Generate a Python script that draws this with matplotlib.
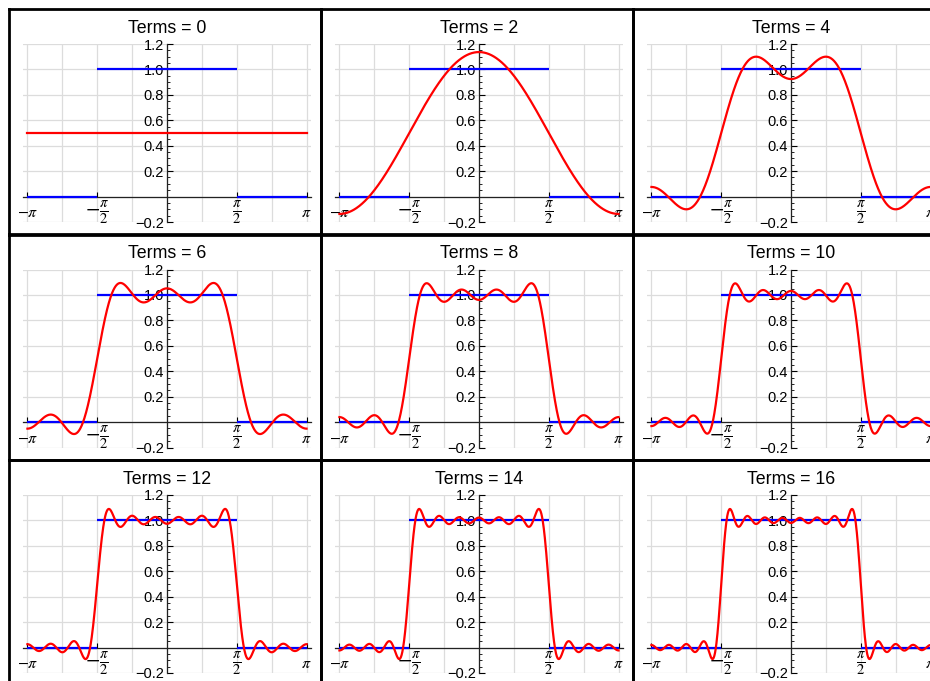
import numpy as np
import matplotlib
matplotlib.use("Agg")
import matplotlib.pyplot as plt
from matplotlib.ticker import MultipleLocator, FixedLocator

plt.rcParams['font.family'] = ['Liberation Sans', 'DejaVu Sans']
plt.rcParams['mathtext.fontset'] = 'stix'

# number of terms shown in each panel (row by row)
terms = [0, 2, 4, 6, 8, 10, 12, 14, 16]

# cosine coefficients a_n of the partial sums, n = 0..16
coef = [0.5, 0.6366, 0.0, -0.2122, 0.0, 0.1273, 0.0, -0.0909, 0.0,
        0.0707, 0.0, -0.0579, 0.0, 0.0490, 0.0, -0.0424, 0.0]

# target pulse, drawn as three flat pieces
pulse_x = [[-np.pi, -np.pi / 2], [-np.pi / 2, np.pi / 2], [np.pi / 2, np.pi]]
pulse_y = [[0, 0], [1, 1], [0, 0]]

xtick_vals = [-np.pi, -np.pi / 2, np.pi / 2, np.pi]
xtick_text = [r'$-\pi$', r'$-\frac{\pi}{2}$', r'$\frac{\pi}{2}$', r'$\pi$']
xtick_size = [11.5, 15, 15, 11.5]
ytick_vals = [-0.2, 0.2, 0.4, 0.6, 0.8, 1.0, 1.2]

W, H = 930, 681
fig = plt.figure(figsize=(W / 100, H / 100), dpi=100)

cell_w, cell_h = 312, 225.5
x0, y0 = 9, 9

xs = np.linspace(-np.pi, np.pi, 800)

for i, n in enumerate(terms):
    r, c = divmod(i, 3)
    cx = x0 + c * cell_w
    cy = y0 + r * cell_h

    # frame of the cell
    fr = fig.add_axes([cx / W, 1 - (cy + cell_h) / H, cell_w / W, cell_h / H])
    fr.set_xticks([])
    fr.set_yticks([])
    fr.patch.set_alpha(0)
    for s in fr.spines.values():
        s.set_linewidth(2)
        s.set_color('black')

    ax = fig.add_axes([(cx + 14) / W, 1 - (cy + 35 + 178) / H, 288 / W, 178 / H])
    ax.patch.set_alpha(0)
    ax.set_xlim(-np.pi - 0.1, np.pi + 0.1)
    ax.set_ylim(-0.2, 1.2)

    # grid
    for gx in np.arange(-4, 5) * np.pi / 4:
        ax.axvline(gx, color='#dcdcdc', lw=0.9, zorder=0)
    for gy in np.arange(-1, 7) * 0.2:
        ax.axhline(gy, color='#dcdcdc', lw=0.9, zorder=0)

    ax.spines['top'].set_visible(False)
    ax.spines['right'].set_visible(False)
    ax.spines['left'].set_position(('data', 0))
    ax.spines['bottom'].set_position(('data', 0))
    ax.spines['left'].set_bounds(-0.2, 1.2)
    for s in ('left', 'bottom'):
        ax.spines[s].set_linewidth(0.9)
        ax.spines[s].set_color('#222222')

    ax.yaxis.set_major_locator(FixedLocator(ytick_vals))
    ax.yaxis.set_minor_locator(MultipleLocator(0.05))
    ax.set_yticklabels([f'{v:.1f}'.replace('-', '\u2212') for v in ytick_vals])
    ax.tick_params(axis='y', which='major', direction='in', length=4, width=0.8,
                   labelsize=10.5, pad=2)
    ax.tick_params(axis='y', which='minor', direction='in', length=2.2, width=0.6)

    ax.set_xticks(xtick_vals)
    ax.set_xticklabels(xtick_text)
    ax.tick_params(axis='x', which='major', direction='in', length=3.5, width=0.8,
                   pad=11.5)
    for lab, fs in zip(ax.get_xticklabels(), xtick_size):
        lab.set_fontsize(fs)
        lab.set_verticalalignment('center')

    for px, py in zip(pulse_x, pulse_y):
        ax.plot(px, py, color='#0000ff', lw=1.6, zorder=3, solid_capstyle='butt')

    ys = np.zeros_like(xs)
    for k in range(n + 1):
        ys += coef[k] * np.cos(k * xs)
    ax.plot(xs, ys, color='#ff0000', lw=1.6, zorder=4)

    ax.set_title(f'Terms = {n}', fontsize=12.8, pad=8)

fig.savefig('out.png', dpi=100)
